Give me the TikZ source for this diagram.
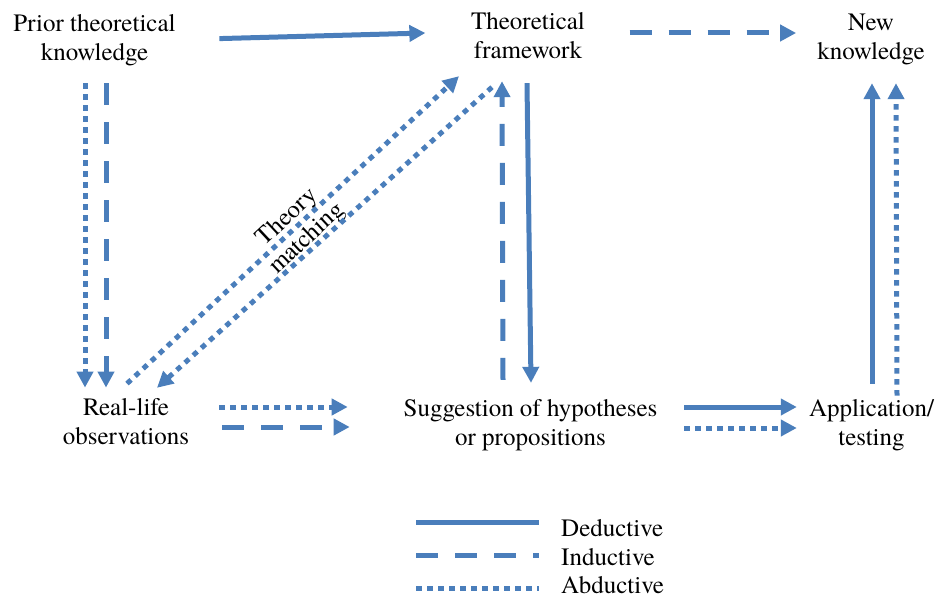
\documentclass[tikz,border=0pt]{standalone}
\usepackage{fontspec}
\setmainfont{TeX Gyre Termes}
\usepackage{xcolor}
\usetikzlibrary{arrows.meta}
\definecolor{flowblue}{RGB}{74,126,187}
\tikzset{concept/.style={align=center,inner sep=2pt,font=\fontsize{25}{29}\selectfont},
 legend/.style={anchor=base west,inner sep=2pt,font=\fontsize{25}{29}\selectfont},
 link/.style={draw=flowblue,line width=5pt},
 deduct/.style={link},
 induct/.style={link,dash pattern=on 22pt off 17pt},
 abduct/.style={link,dash pattern=on 5.5pt off 5.5pt},
 arrowed/.style={-{Triangle[length=16pt,width=16pt]}},
 }

\begin{document}
\begin{tikzpicture}[x=1pt,y=-1pt]
        \useasboundingbox (0,0) rectangle (938,596);
        \node[concept] (prior) at (94.5,40.6) {Prior theoretical\\knowledge};
        \node[concept] (theo) at (528,36) {Theoretical\\framework};
        \node[concept] (new) at (871,39) {New\\knowledge};
        \node[concept] (real) at (126,422) {Real-life\\observations};
        \node[concept] (sugg) at (530.5,424.7) {Suggestion of hypotheses\\or propositions};
        \node[concept] (app) at (871.5,424.7) {Application/\\testing};
        \node[concept,rotate=43] (match) at (297.5,228.5) {Theory\\matching};
        % top row
        \draw[deduct,arrowed] ([xshift=41.6pt,yshift=2pt]prior.east) -- ([xshift=-43.5pt,yshift=3pt]theo.west);
        \draw[induct,arrowed] ([xshift=42.5pt,yshift=3pt]theo.east) -- ([xshift=-19pt,yshift=6pt]new.west);
        % down to the observations
        \draw[abduct,arrowed] ([xshift=-9.5pt,yshift=-14.6pt]prior.south) -- ([xshift=-41pt,yshift=9pt]real.north);
        \draw[induct,arrowed] ([xshift=11.5pt,yshift=-14.6pt]prior.south) -- ([xshift=-20pt,yshift=9pt]real.north);
        \draw[abduct,arrowed] ([xshift=1pt,yshift=13pt]real.north) -- ([xshift=-69pt,yshift=-14.8pt]theo.south);
        \draw[abduct,arrowed] ([xshift=-36pt,yshift=-25.8pt]theo.south) -- ([xshift=31pt,yshift=8.8pt]real.north);
        % framework and hypotheses
        \draw[induct,arrowed] ([xshift=-27.5pt,yshift=16.9pt]sugg.north) -- ([xshift=-26pt,yshift=-19.8pt]theo.south);
        \draw[deduct,arrowed] ([xshift=-1pt,yshift=-21.8pt]theo.south) -- ([xshift=0.5pt,yshift=13.9pt]sugg.north);
        % bottom row
        \draw[abduct,arrowed] ([xshift=27.8pt,yshift=15pt]real.east) -- ([xshift=-53.7pt,yshift=17.7pt]sugg.west);
        \draw[induct,arrowed] ([xshift=30.8pt,yshift=-5pt]real.east) -- ([xshift=-51.7pt,yshift=-2.3pt]sugg.west);
        \draw[deduct,arrowed] ([xshift=24.7pt,yshift=17.7pt]sugg.east) -- ([xshift=-10pt,yshift=17.7pt]app.west);
        \draw[abduct,arrowed] ([xshift=24.7pt,yshift=-3.3pt]sugg.east) -- ([xshift=-10pt,yshift=-3.3pt]app.west);
        % up to new knowledge
        \draw[deduct,arrowed] ([xshift=0.5pt,yshift=12.9pt]app.north) -- ([xshift=1pt,yshift=-16.5pt]new.south);
        \draw[abduct,arrowed] ([xshift=25.5pt,yshift=1pt]app.north) -- ([xshift=25pt,yshift=-16.5pt]new.south);
        % legend
        \node[legend] (lded) at (559,536) {Deductive};
        \node[legend] (lind) at (559,565) {Inductive};
        \node[legend] (labd) at (559,593) {Abductive};
        \draw[deduct] ([xshift=-143pt,yshift=5.5pt]lded.west) -- ([xshift=-20pt,yshift=5.5pt]lded.west);
        \draw[induct] ([xshift=-143pt,yshift=1.5pt]lind.west) -- ([xshift=-20pt,yshift=1.5pt]lind.west);
        \draw[abduct] ([xshift=-143pt,yshift=-3.5pt]labd.west) -- ([xshift=-20pt,yshift=-3.5pt]labd.west);
    \end{tikzpicture}
\end{document}
